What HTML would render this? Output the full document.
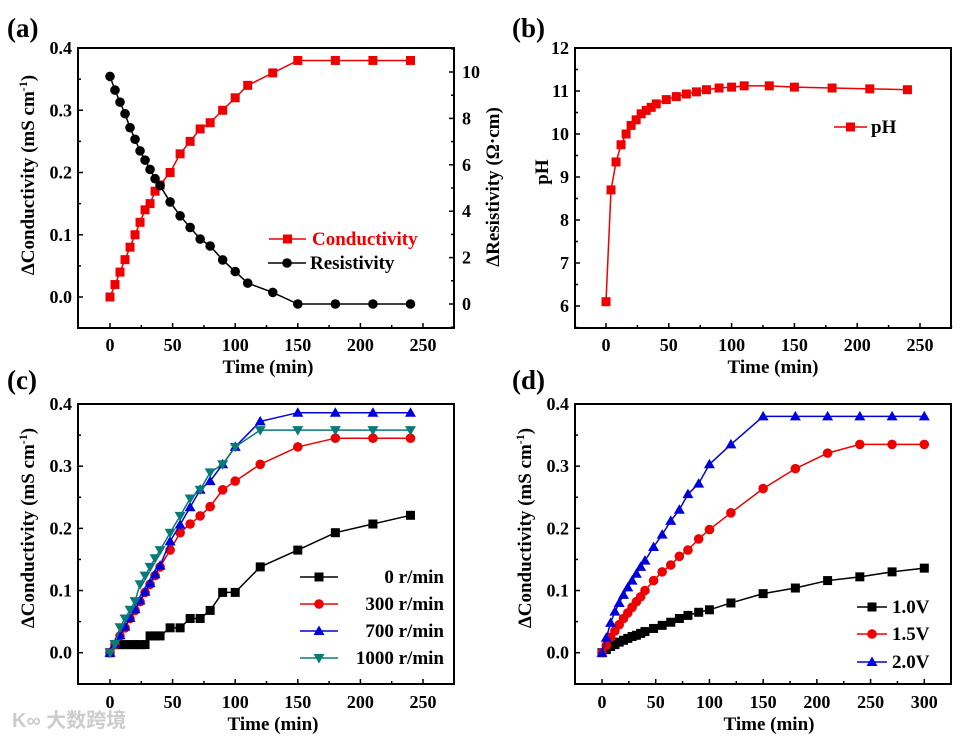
<!DOCTYPE html>
<html><head><meta charset="utf-8">
<style>
html,body{margin:0;padding:0;background:#fff;}
svg{display:block;font-family:"Liberation Serif","Noto Serif CJK SC",serif;font-weight:bold;}
</style></head>
<body>
<svg id="fig" width="969" height="740" viewBox="0 0 969 740" xmlns="http://www.w3.org/2000/svg"></svg>
<script>
// ---- Panel (a) data
const timesA = [0,4,8,12,16,20,24,28,32,36,40,48,56,64,72,80,90,100,110,130,150,180,210,240];
const conductivityA = [0,0.02,0.04,0.06,0.08,0.10,0.12,0.14,0.15,0.17,0.18,0.20,0.23,0.25,0.27,0.28,0.30,0.32,0.34,0.36,0.38,0.38,0.38,0.38];
const resistivityA = [9.81,9.22,8.7,8.2,7.6,7.1,6.6,6.2,5.8,5.4,5.1,4.4,3.8,3.3,2.8,2.5,1.9,1.4,0.9,0.5,0,0,0,0];
// ---- Panel (b) data
const timesB = [0,4,8,12,16,20,24,28,32,36,40,48,56,64,72,80,90,100,110,130,150,180,210,240];
const phB = [6.1,8.7,9.35,9.75,10.0,10.2,10.33,10.47,10.55,10.62,10.7,10.8,10.87,10.93,10.98,11.03,11.07,11.09,11.12,11.12,11.09,11.07,11.05,11.03];
// ---- Panel (c) data
const timesC = [0,4,8,12,16,20,24,28,32,36,40,48,56,64,72,80,90,100,120,150,180,210,240];
const rpm0 = [0,0.013,0.013,0.013,0.013,0.013,0.013,0.013,0.027,0.027,0.027,0.04,0.04,0.055,0.055,0.068,0.097,0.097,0.138,0.165,0.193,0.207,0.221];
const rpm300 = [0,0.013,0.027,0.04,0.055,0.068,0.082,0.097,0.11,0.124,0.138,0.165,0.193,0.207,0.22,0.235,0.262,0.276,0.303,0.331,0.345,0.345,0.345];
const rpm700 = [0,0.014,0.028,0.042,0.056,0.07,0.084,0.098,0.112,0.126,0.14,0.179,0.206,0.234,0.262,0.276,0.303,0.331,0.372,0.386,0.386,0.386,0.386];
const rpm1000 = [0,0.014,0.041,0.055,0.069,0.083,0.11,0.124,0.138,0.152,0.165,0.193,0.22,0.248,0.262,0.29,0.303,0.331,0.358,0.358,0.358,0.358,0.358];
// ---- Panel (d) data
const timesD = [0,4,8,12,16,20,24,28,32,36,40,48,56,64,72,80,90,100,120,150,180,210,240,270,300];
const v10 = [0,0.005,0.01,0.013,0.017,0.02,0.023,0.026,0.028,0.031,0.034,0.039,0.044,0.049,0.055,0.06,0.065,0.069,0.08,0.095,0.104,0.116,0.122,0.13,0.136];
const v15 = [0,0.012,0.025,0.035,0.045,0.055,0.064,0.073,0.082,0.09,0.1,0.116,0.13,0.141,0.155,0.165,0.183,0.198,0.225,0.264,0.296,0.321,0.335,0.335,0.335];
const v20 = [0,0.024,0.048,0.066,0.08,0.093,0.105,0.116,0.127,0.138,0.148,0.17,0.19,0.212,0.23,0.255,0.272,0.303,0.335,0.38,0.38,0.38,0.38,0.38,0.38];
const xTicks250 = [0,50,100,150,200,250];
const xTicks300 = [0,50,100,150,200,250,300];
const condTicks = [0.0,0.1,0.2,0.3,0.4];
const resTicks = [0,2,4,6,8,10];
const phTicks = [6,7,8,9,10,11,12];

const NS = "http://www.w3.org/2000/svg";
const svg = document.getElementById('fig');
function el(tag, attrs, parent, text){
  const e = document.createElementNS(NS, tag);
  for (const k in attrs) e.setAttribute(k, attrs[k]);
  if (text !== undefined) e.textContent = text;
  (parent || svg).appendChild(e);
  return e;
}
function lin(d0,d1,r0,r1){ return v => r0 + (v-d0)*(r1-r0)/(d1-d0); }

function marker(g, shape, x, y, color){
  let m;
  if (shape==='square') m = el('rect',{x:x-4.5,y:y-4.5,width:9,height:9,fill:color},g);
  else if (shape==='circle') m = el('circle',{cx:x,cy:y,r:4.8,fill:color},g);
  else if (shape==='up') m = el('polygon',{points:`${x},${y-5.5} ${x-5.5},${y+4} ${x+5.5},${y+4}`,fill:color},g);
  else m = el('polygon',{points:`${x},${y+5.5} ${x-5.5},${y-4} ${x+5.5},${y-4}`,fill:color},g);
  
  
}
function series(name, xs, ys, sx, sy, color, shape){
  const g = el('g',{});
  
  
  const pts = xs.map((t,i)=>sx(t)+','+sy(ys[i])).join(' ');
  el('polyline',{points:pts,fill:'none',stroke:color,'stroke-width':1.5},g);
  xs.forEach((t,i)=>marker(g,shape,sx(t),sy(ys[i]),color));
}
function frame(name,x0,y0,x1,y1){
  const r = el('rect',{x:x0,y:y0,width:x1-x0,height:y1-y0,fill:'none',stroke:'#000','stroke-width':2});
  
  
}
function xAxis(ticks, sx, yb, minorStep, maxV, labY, title, titleX, titleY){
  const g = el('g',{});
  
  
  for (let v=ticks[0]; v<=maxV; v+=minorStep){
    const major = ticks.includes(v);
    el('line',{x1:sx(v),x2:sx(v),y1:yb,y2:yb-(major?5:3),stroke:'#000','stroke-width':1.5},g);
  }
  ticks.forEach(v=>el('text',{x:sx(v),y:labY,'text-anchor':'middle','font-size':18},g,String(v)));
  const t = el('text',{x:titleX,y:titleY,'text-anchor':'middle','font-size':19},g,title);
  
  
}
function yAxis(ticks, sy, xa, dir, fmt, labX, anchor, lo, hi, minorStep){
  const g = el('g',{});
  
  
  for (let v=lo; v<=hi+1e-9; v+=minorStep){
    const major = ticks.some(t=>Math.abs(t-v)<1e-6);
    el('line',{x1:xa,x2:xa+dir*(major?5:3),y1:sy(v),y2:sy(v),stroke:'#000','stroke-width':1.5},g);
  }
  ticks.forEach(v=>el('text',{x:labX,y:sy(v)+6,'text-anchor':anchor,'font-size':18},g,fmt(v)));
}
function rotTitle(name, x, y, parts, fill){
  const t = el('text',{x:x,y:y,'text-anchor':'middle','font-size':19,transform:`rotate(-90 ${x} ${y})`,fill:fill||'#000'});
  
  
  parts.forEach(p=>{ const s = el('tspan', p.sup?{dy:-7,'font-size':12}:(p.after?{dy:7}:{}), t, p.t); });
}
function legendEntry(name, x0, x1, y, color, shape, label, tx, anchor, size){
  const g = el('g',{});
  
  
  el('line',{x1:x0,x2:x1,y1:y,y2:y,stroke:color,'stroke-width':1.5},g);
  marker(g, shape, (x0+x1)/2, y, color);
  el('text',{x:tx,y:y+6,'text-anchor':anchor,'font-size':size||19,fill:(name.indexOf('conductivity')>=0?'#e00':'#000')},g,label);
}
function panelLabel(name,x,y,txt){
  const t = el('text',{x:x,y:y,'font-size':27},svg,txt);
  
  
}
const fmt1 = v=>v.toFixed(1);
const fmt0 = v=>String(v);

// ===== Panel (a)
panelLabel('panel-label-a',7,37,'(a)');
{
  const sx = lin(0,250,110,423), sy = lin(0,0.4,297,48), sr = lin(0,10,304,72);
  frame('plot-frame-a',78,48,454,328);
  xAxis(xTicks250, sx, 328, 25, 275, 351, 'Time (min)', 268, 373);
  yAxis(condTicks, sy, 78, 1, fmt1, 72, 'end', -0.05, 0.4, 0.05);
  yAxis(resTicks, sr, 454, -1, fmt0, 462, 'start', -1, 11, 1);
  rotTitle('y-axis-title-left', 34, 175, [{t:'ΔConductivity (mS cm'},{t:'-1',sup:true},{t:')',after:true}]);
  rotTitle('y-axis-title-right', 499, 187, [{t:'ΔResistivity (Ω·cm)'}]);
  series('series-conductivity', timesA, conductivityA, sx, sy, '#e00', 'square');
  series('series-resistivity', timesA, resistivityA, sx, sr, '#000', 'circle');
  legendEntry('legend-conductivity', 269, 306, 239, '#e00', 'square', 'Conductivity', 312, 'start');
  legendEntry('legend-resistivity', 268, 306, 263, '#000', 'circle', 'Resistivity', 310, 'start');
}
// ===== Panel (b)
panelLabel('panel-label-b',512,37,'(b)');
{
  const sx = lin(0,250,606,920), sy = lin(6,12,306,48);
  frame('plot-frame-b',575,48,951,328);
  xAxis(xTicks250, sx, 328, 25, 275, 351, 'Time (min)', 773, 373);
  yAxis(phTicks, sy, 575, 1, fmt0, 569, 'end', 5.5, 12, 0.5);
  rotTitle('y-axis-title-b', 548, 172, [{t:'pH'}]);
  series('series-ph', timesB, phB, sx, sy, '#e00', 'square');
  legendEntry('legend-ph', 834, 867, 127, '#e00', 'square', 'pH', 871, 'start');
}
// ===== Panel (c)
panelLabel('panel-label-c',7,389,'(c)');
{
  const sx = lin(0,250,110,423), sy = lin(0,0.4,652.7,404);
  frame('plot-frame-c',78,404,454,684);
  xAxis(xTicks250, sx, 684, 25, 275, 708, 'Time (min)', 273, 730);
  yAxis(condTicks, sy, 78, 1, fmt1, 72, 'end', -0.05, 0.4, 0.05);
  rotTitle('y-axis-title-c', 34, 528, [{t:'ΔConductivity (mS cm'},{t:'-1',sup:true},{t:')',after:true}]);
  series('series-0-rpm', timesC, rpm0, sx, sy, '#000', 'square');
  series('series-300-rpm', timesC, rpm300, sx, sy, '#e00', 'circle');
  series('series-700-rpm', timesC, rpm700, sx, sy, '#00d', 'up');
  series('series-1000-rpm', timesC, rpm1000, sx, sy, '#087a7a', 'down');
  legendEntry('legend-0-rpm', 300, 338, 577, '#000', 'square', '0 r/min', 444, 'end');
  legendEntry('legend-300-rpm', 300, 338, 604, '#e00', 'circle', '300 r/min', 444, 'end');
  legendEntry('legend-700-rpm', 300, 338, 631, '#00d', 'up', '700 r/min', 444, 'end');
  legendEntry('legend-1000-rpm', 300, 338, 658, '#087a7a', 'down', '1000 r/min', 444, 'end');
}
// ===== Panel (d)
panelLabel('panel-label-d',512,389,'(d)');
{
  const sx = lin(0,300,602,924.3), sy = lin(0,0.4,652.7,404);
  frame('plot-frame-d',575,404,951,684);
  xAxis(xTicks300, sx, 684, 25, 300, 708, 'Time (min)', 769, 730);
  yAxis(condTicks, sy, 575, 1, fmt1, 569, 'end', -0.05, 0.4, 0.05);
  rotTitle('y-axis-title-d', 531, 528, [{t:'ΔConductivity (mS cm'},{t:'-1',sup:true},{t:')',after:true}]);
  series('series-1-0V', timesD, v10, sx, sy, '#000', 'square');
  series('series-1-5V', timesD, v15, sx, sy, '#e00', 'circle');
  series('series-2-0V', timesD, v20, sx, sy, '#00d', 'up');
  legendEntry('legend-1-0V', 857, 887, 607, '#000', 'square', '1.0V', 892, 'start');
  legendEntry('legend-1-5V', 857, 887, 634, '#e00', 'circle', '1.5V', 892, 'start');
  legendEntry('legend-2-0V', 857, 887, 662, '#00d', 'up', '2.0V', 892, 'start');
}
// watermark
{
  const w = el('text',{x:12,y:727,'font-size':20,fill:'#ccc','font-family':'"Liberation Sans","Noto Sans CJK SC",sans-serif'},svg,'K∞ 大数跨境');
  
  
}
</script>
</body></html>
